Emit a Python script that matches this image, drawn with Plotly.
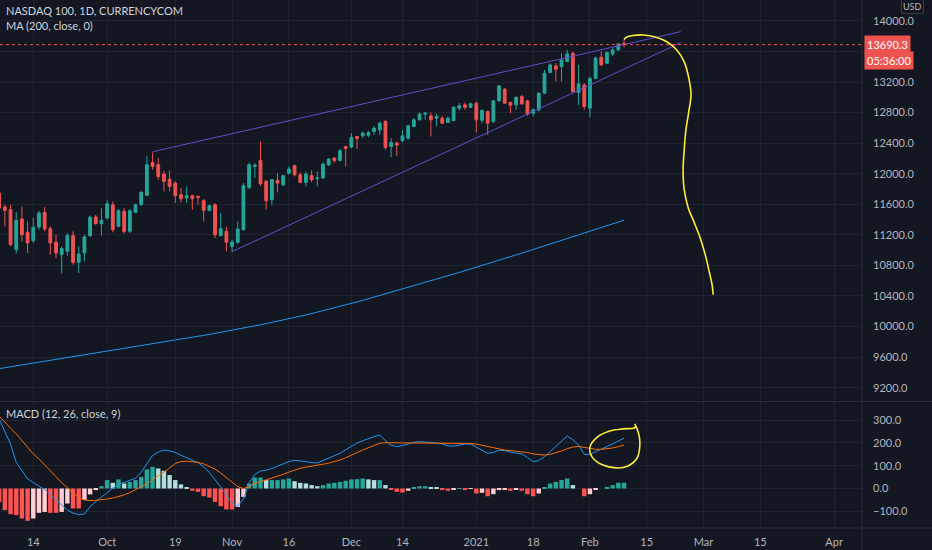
import pandas as pd
import plotly.graph_objects as go

BG = '#131722'
GRID = '#1f2330'
TXT = '#b2b5be'
UP = '#26a69a'
DN = '#ef5350'
FONT = 'Lato'

holidays = ['2020-12-25', '2021-01-01']

dates = [
    '2020-09-04', '2020-09-07', '2020-09-08', '2020-09-09', '2020-09-10', '2020-09-11',
    '2020-09-14', '2020-09-15', '2020-09-16', '2020-09-17', '2020-09-18',
    '2020-09-21', '2020-09-22', '2020-09-23', '2020-09-24', '2020-09-25',
    '2020-09-28', '2020-09-29', '2020-09-30', '2020-10-01', '2020-10-02',
    '2020-10-05', '2020-10-06', '2020-10-07', '2020-10-08', '2020-10-09',
    '2020-10-12', '2020-10-13', '2020-10-14', '2020-10-15', '2020-10-16',
    '2020-10-19', '2020-10-20', '2020-10-21', '2020-10-22', '2020-10-23',
    '2020-10-26', '2020-10-27', '2020-10-28', '2020-10-29', '2020-10-30',
    '2020-11-02', '2020-11-03', '2020-11-04', '2020-11-05', '2020-11-06',
    '2020-11-09', '2020-11-10', '2020-11-11', '2020-11-12', '2020-11-13',
    '2020-11-16', '2020-11-17', '2020-11-18', '2020-11-19', '2020-11-20',
    '2020-11-23', '2020-11-24', '2020-11-25', '2020-11-26', '2020-11-27',
    '2020-11-30', '2020-12-01', '2020-12-02', '2020-12-03', '2020-12-04',
    '2020-12-07', '2020-12-08', '2020-12-09', '2020-12-10', '2020-12-11',
    '2020-12-14', '2020-12-15', '2020-12-16', '2020-12-17', '2020-12-18',
    '2020-12-21', '2020-12-22', '2020-12-23', '2020-12-24', '2020-12-28',
    '2020-12-29', '2020-12-30', '2020-12-31', '2021-01-04', '2021-01-05',
    '2021-01-06', '2021-01-07', '2021-01-08', '2021-01-11', '2021-01-12',
    '2021-01-13', '2021-01-14', '2021-01-15', '2021-01-18', '2021-01-19',
    '2021-01-20', '2021-01-21', '2021-01-22', '2021-01-25', '2021-01-26',
    '2021-01-27', '2021-01-28', '2021-01-29', '2021-02-01', '2021-02-02',
    '2021-02-03', '2021-02-04', '2021-02-05', '2021-02-08', '2021-02-09',
]

opens = [
    11747, 11564, 11530, 11007, 11408, 11233, 11124, 11303, 11495, 11281, 11103,
    10941, 10985, 11190, 10841, 10963, 11190, 11434, 11347, 11421, 11595,
    11312, 11508, 11246, 11495, 11595, 11717, 12148, 12118, 11996, 11930,
    11878, 11726, 11682, 11713, 11704, 11647, 11521, 11595, 11190, 11246,
    11050, 11103, 11268, 11822, 12096, 12174, 11900, 11660, 11913, 11856,
    12009, 12105, 11987, 11887, 11978, 11935, 11944, 12118, 12205, 12174,
    12357, 12349, 12488, 12497, 12505, 12554, 12575, 12684, 12357, 12401,
    12432, 12466, 12619, 12706, 12780, 12758, 12728, 12728, 12671, 12697,
    12858, 12902, 12871, 12924, 12700, 12815, 12684, 12954, 13107, 12932,
    12902, 13011, 12954, 12793, 12837, 13055, 13324, 13412, 13403, 13469,
    13577, 13063, 13163, 12858, 13250, 13525, 13447, 13569, 13621, 13708,
]
highs = [
    11791, 11595, 11595, 11495, 11573, 11377, 11421, 11516, 11564, 11312, 11203,
    11050, 11225, 11246, 11050, 11203, 11451, 11464, 11551, 11652, 11638,
    11538, 11551, 11538, 11608, 11769, 12235, 12279, 12205, 12039, 12044,
    11900, 11813, 11835, 11726, 11713, 11669, 11595, 11617, 11486, 11303,
    11137, 11377, 11878, 12148, 12140, 12423, 11922, 11931, 12009, 11987,
    12096, 12118, 12018, 12031, 12044, 12031, 12148, 12205, 12218, 12323,
    12366, 12532, 12497, 12554, 12562, 12627, 12684, 12706, 12466, 12423,
    12575, 12641, 12728, 12802, 12802, 12802, 12784, 12758, 12749, 12880,
    12924, 12932, 12932, 12945, 12845, 12828, 12967, 13163, 13120, 12945,
    13020, 13033, 12967, 12858, 13063, 13359, 13447, 13447, 13577, 13621,
    13599, 13425, 13185, 13272, 13534, 13599, 13599, 13643, 13708, 13752,
]
lows = [
    11508, 11312, 11050, 10955, 11116, 10963, 11094, 11268, 11246, 10941, 10898,
    10693, 10928, 10811, 10702, 10854, 11172, 11334, 11190, 11399, 11233,
    11299, 11216, 11225, 11486, 11582, 11713, 12052, 11922, 11769, 11769,
    11617, 11626, 11617, 11530, 11595, 11377, 11508, 11159, 11181, 10985,
    10972, 11085, 11255, 11800, 11944, 11843, 11530, 11595, 11756, 11835,
    11987, 11965, 11878, 11835, 11887, 11835, 11930, 12100, 12139, 12161,
    12096, 12336, 12323, 12466, 12475, 12510, 12510, 12314, 12218, 12235,
    12410, 12444, 12610, 12697, 12706, 12488, 12619, 12654, 12662, 12684,
    12828, 12837, 12858, 12540, 12662, 12510, 12662, 12945, 12915, 12793,
    12837, 12902, 12758, 12749, 12815, 13046, 13316, 13207, 13207, 13460,
    13055, 12902, 12837, 12741, 13237, 13412, 13438, 13543, 13612, 13656,
]
closes = [
    11551, 11521, 11072, 11390, 11203, 11094, 11299, 11486, 11277, 11094, 10963,
    11020, 11190, 10841, 10950, 11172, 11429, 11347, 11390, 11608, 11268,
    11516, 11246, 11516, 11595, 11756, 12118, 12096, 11965, 11900, 11834,
    11713, 11673, 11713, 11673, 11691, 11521, 11582, 11203, 11281, 11103,
    11107, 11277, 11843, 12118, 12113, 11869, 11647, 11922, 11878, 11974,
    12061, 11987, 11887, 11996, 11922, 11944, 12127, 12192, 12174, 12301,
    12331, 12475, 12462, 12532, 12540, 12597, 12662, 12344, 12410, 12375,
    12497, 12627, 12706, 12780, 12793, 12706, 12749, 12662, 12728, 12871,
    12889, 12871, 12915, 12706, 12828, 12662, 12954, 13150, 12924, 12898,
    12998, 12915, 12780, 12837, 13055, 13316, 13425, 13368, 13490, 13569,
    13076, 13176, 12880, 13250, 13512, 13425, 13586, 13621, 13699, 13690.3,
]

ma200 = [
    9449, 9461, 9473, 9485, 9497, 9509, 9520, 9532, 9544, 9556, 9568, 9580,
    9592, 9604, 9616, 9628, 9639, 9651, 9663, 9675, 9687, 9699, 9711, 9723,
    9735, 9747, 9758, 9770, 9782, 9794, 9807, 9819, 9832, 9845, 9858, 9871,
    9884, 9897, 9911, 9924, 9938, 9952, 9966, 9980, 9994, 10008, 10023, 10038,
    10053, 10069, 10085, 10101, 10118, 10135, 10152, 10170, 10188, 10207, 10225,
    10244, 10264, 10283, 10303, 10323, 10343, 10364, 10384, 10405, 10426, 10447,
    10468, 10489, 10510, 10532, 10553, 10575, 10597, 10619, 10641, 10663, 10685,
    10708, 10731, 10753, 10776, 10799, 10822, 10845, 10868, 10891, 10914, 10938,
    10961, 10985, 11008, 11032, 11056, 11080, 11104, 11128, 11152, 11176, 11200,
    11224, 11248, 11272, 11296, 11320, 11344, 11368, 11392,
]

macd = [
    305, 250, 195, 115, 78, 42, 26, 10, -5, -26, -49, -74, -95, -108, -115, -112,
    -80, -58, -38, -17, 2, 18, 27, 34, 45, 72, 107, 145, 160, 169, 165, 158,
    146, 134, 124, 114, 95, 70, 40, 7, -30, -65, -76, -48, 25, 62, 77, 80, 88,
    98, 108, 118, 124, 122, 118, 114, 112, 123, 133, 144, 155, 170, 185, 200,
    210, 220, 228, 235, 210, 190, 184, 188, 196, 203, 206, 205, 202, 200, 196,
    187, 186, 192, 196, 195, 180, 168, 155, 158, 168, 166, 160, 157, 152, 136,
    118, 123, 140, 162, 185, 210, 231, 214, 192, 150, 150, 162, 172, 184, 196,
    210, 221,
]
signal = [
    318, 290, 265, 240, 210, 180, 152, 130, 105, 78, 52, 25, 5, -20, -40, -50,
    -53, -52, -50, -46, -42, -36, -28, -18, -6, 5, 20, 38, 55, 72, 90, 110,
    118, 120, 119, 115, 108, 98, 85, 68, 48, 28, 8, 0, 8, 22, 30, 37, 44, 52,
    62, 72, 82, 89, 94, 98, 102, 104, 111, 119, 125, 135, 145, 158, 169, 180,
    190, 199, 201, 201, 201, 201, 201, 201, 201, 201, 200, 199, 199, 199, 199,
    199, 199, 198, 195, 190, 184, 178, 172, 169, 167, 165, 162, 158, 152, 148,
    147, 150, 157, 165, 175, 182, 185, 180, 174, 172, 172, 174, 178, 184, 191,
]
hist = [
    -59, -95, -113, -117, -132, -142, -132, -107, -103, -107, -107, -103, -66,
    -88, -88, -51, -26, -7, 10, 37, 25, 40, 22, 29, 37, 51, 84, 95, 88, 78, 59,
    37, 18, 4, -10, -15, -34, -40, -59, -78, -92, -92, -81, -37, 22, 48, 48, 37,
    37, 37, 40, 44, 32, 25, 22, 15, 10, 15, 22, 25, 29, 34, 40, 41, 44, 40, 37,
    37, 15, -4, -15, -18, -10, 4, 10, 10, 4, 3, -7, -10, -4, 1, -4, -1, -22,
    -19, -34, -25, -7, -4, -10, -4, -10, -25, -34, -22, 4, 22, 29, 37, 44, 15,
    0, -34, -25, -4, 0, 7, 15, 25, 25,
]

tick_dates = ['2020-09-14', '2020-10-01', '2020-10-19', '2020-11-02', '2020-11-16',
              '2020-12-01', '2020-12-14', '2021-01-04', '2021-01-18', '2021-02-01',
              '2021-02-15', '2021-03-01', '2021-03-15', '2021-04-01']
tick_text = ['14', 'Oct', '19', 'Nov', '16', 'Dec', '14', '2021', '18', 'Feb',
             '15', 'Mar', '15', 'Apr']

price_ticks = [9200, 9600, 10000, 10400, 10800, 11200, 11600, 12000, 12400,
               12800, 13200, 13600, 14000]
hidden_price_ticks = [13600]
macd_ticks = [-100, 0, 100, 200, 300]

last_price = 13690.3
countdown = '05:36:00'

upper_line_dates = ['2020-10-13', '2021-02-23']
upper_line_prices = [12288, 13860]
lower_line_dates = ['2020-11-02', '2021-02-23']
lower_line_prices = [10980, 13716]

# freehand drawings, x in bar units of the time scale
yellow_bars = [110.0, 110.5, 111.6, 113.4, 115.5, 117.6, 119.3, 120.6, 121.4, 121.8,
               121.4, 120.9, 120.6, 120.4, 120.6, 121.3, 122.3, 123.4, 124.3, 125.0,
               125.5, 125.7]
yellow_prices = [13758, 13791, 13810, 13817, 13791, 13725, 13621, 13464, 13255, 13033,
                 12810, 12575, 12314, 12052, 11791, 11556, 11373, 11163, 10941, 10719,
                 10549, 10418]
circle_bars = [111.9, 112.5, 112.8, 112.3, 110.7, 108.9, 106.3, 104.4, 104.0, 105.3,
               107.5, 109.8, 111.8, 112.1]
circle_vals = [284, 248, 200, 134, 99, 90, 103, 138, 182, 226, 253, 262, 266, 275]

x_range = [0.14, 151.9]
price_range = [9032.7, 14274.5]
macd_range = [-173.6, 380.0]

# ---- time scale (trading-day index) ----
cal = [d.strftime('%Y-%m-%d') for d in pd.bdate_range(dates[0], periods=200)]
cal = [d for d in cal if d not in holidays]
pos = {d: i for i, d in enumerate(cal)}
x = [pos[d] for d in dates]
tickvals = [pos[d] for d in tick_dates]

hcol = []
for i, v in enumerate(hist):
    prev = hist[i - 1] if i > 0 else v
    if v >= 0:
        hcol.append('#26a69a' if v >= prev else '#b2dfdb')
    else:
        hcol.append('#ffcdd2' if v > prev else '#ff5252')

fig = go.Figure()

fig.add_trace(go.Scatter(x=x, y=ma200, mode='lines', line=dict(color='#2196f3', width=1),
                         xaxis='x', yaxis='y', hoverinfo='skip'))
fig.add_trace(go.Scatter(x=[pos[d] for d in upper_line_dates], y=upper_line_prices, mode='lines',
                         line=dict(color='#5e4fcf', width=1), xaxis='x', yaxis='y', hoverinfo='skip'))
fig.add_trace(go.Scatter(x=[pos[d] for d in lower_line_dates], y=lower_line_prices, mode='lines',
                         line=dict(color='#5e4fcf', width=1), xaxis='x', yaxis='y', hoverinfo='skip'))
fig.add_trace(go.Candlestick(
    x=x, open=opens, high=highs, low=lows, close=closes, xaxis='x', yaxis='y',
    increasing=dict(line=dict(color=UP, width=1), fillcolor=UP),
    decreasing=dict(line=dict(color=DN, width=1), fillcolor=DN),
    whiskerwidth=0, hoverinfo='skip'))
fig.add_trace(go.Scatter(x=yellow_bars, y=yellow_prices, mode='lines',
                         line=dict(color='#ffeb3b', width=1.6, shape='spline'),
                         xaxis='x', yaxis='y', hoverinfo='skip'))

fig.add_trace(go.Bar(x=x, y=hist, marker=dict(color=hcol, line=dict(width=0)), width=0.78,
                     xaxis='x2', yaxis='y2', hoverinfo='skip'))
fig.add_trace(go.Scatter(x=x, y=macd, mode='lines', line=dict(color='#2196f3', width=1),
                         xaxis='x2', yaxis='y2', hoverinfo='skip'))
fig.add_trace(go.Scatter(x=x, y=signal, mode='lines', line=dict(color='#ff6d00', width=1),
                         xaxis='x2', yaxis='y2', hoverinfo='skip'))
fig.add_trace(go.Scatter(x=circle_bars, y=circle_vals, mode='lines',
                         line=dict(color='#ffeb3b', width=1.6, shape='spline'),
                         xaxis='x2', yaxis='y2', hoverinfo='skip'))

axis_font = dict(family=FONT, size=11, color=TXT)
main_bottom = 0.2396

fig.update_layout(
    width=932, height=550,
    margin=dict(l=0, r=70, t=0, b=22),
    paper_bgcolor=BG, plot_bgcolor=BG,
    showlegend=False,
    font=dict(family=FONT, color=TXT, size=11),
    xaxis=dict(domain=[0, 1], anchor='y', range=x_range, tickvals=tickvals,
               showticklabels=False, showgrid=True, gridcolor=GRID, gridwidth=1,
               zeroline=False, ticks='', rangeslider=dict(visible=False), fixedrange=True),
    xaxis2=dict(domain=[0, 1], anchor='y2', matches='x', range=x_range, tickvals=tickvals,
                ticktext=tick_text, tickfont=axis_font, showgrid=True, gridcolor=GRID,
                zeroline=False, ticks='', ticklabelstandoff=6, fixedrange=True),
    yaxis=dict(domain=[main_bottom + 0.002, 1], anchor='x', side='right', range=price_range,
               tickvals=price_ticks,
               ticktext=['' if v in hidden_price_ticks else f'{v:.1f}' for v in price_ticks],
               tickfont=axis_font, showgrid=True, gridcolor=GRID, zeroline=False,
               ticks='', ticklabelstandoff=10, fixedrange=True),
    yaxis2=dict(domain=[0, main_bottom - 0.001], anchor='x2', side='right', range=macd_range,
                tickvals=macd_ticks,
                ticktext=[(f'{v:.1f}' if v >= 0 else '\u2212' + f'{abs(v):.1f}') for v in macd_ticks],
                tickfont=axis_font, showgrid=True, gridcolor=GRID, zeroline=False,
                ticks='', ticklabelstandoff=10, fixedrange=True),
    shapes=[
        dict(type='line', xref='paper', yref='y', x0=0, x1=1, y0=last_price, y1=last_price,
             line=dict(color=DN, width=1, dash='dot')),
        dict(type='line', xref='paper', yref='paper', x0=0, x1=1.09, y0=main_bottom, y1=main_bottom,
             line=dict(color='#2a2e39', width=1)),
        dict(type='line', xref='paper', yref='paper', x0=0, x1=1.09, y0=0, y1=0,
             line=dict(color='#2a2e39', width=1)),
        dict(type='line', xref='paper', yref='paper', x0=1, x1=1, y0=-0.05, y1=1,
             line=dict(color='#2a2e39', width=1)),
    ],
    annotations=[
        dict(text='NASDAQ 100, 1D, CURRENCYCOM', xref='paper', yref='paper', x=0, y=1,
             xanchor='left', yanchor='top', xshift=4, yshift=-2, showarrow=False,
             font=dict(family=FONT, size=11, color='#d1d4dc')),
        dict(text='MA (200, close, 0)', xref='paper', yref='paper', x=0, y=1,
             xanchor='left', yanchor='top', xshift=4, yshift=-17, showarrow=False,
             font=dict(family=FONT, size=11, color='#d1d4dc')),
        dict(text='MACD (12, 26, close, 9)', xref='paper', yref='paper', x=0, y=main_bottom,
             xanchor='left', yanchor='top', xshift=4, yshift=-4, showarrow=False,
             font=dict(family=FONT, size=11, color='#d1d4dc')),
        dict(text='USD', xref='paper', yref='paper', x=1, y=1, xanchor='center', yanchor='top',
             xshift=50, yshift=1, showarrow=False, bordercolor='#363a45', borderwidth=1,
             borderpad=1, font=dict(family=FONT, size=9, color=TXT)),
        dict(text=f'{last_price:.1f}', xref='paper', yref='y', x=1, y=last_price,
             xanchor='left', yanchor='middle', xshift=2, showarrow=False, bgcolor=DN,
             borderpad=2, font=dict(family=FONT, size=11, color='#ffffff')),
        dict(text=countdown, xref='paper', yref='y', x=1, y=last_price,
             xanchor='left', yanchor='middle', xshift=2, yshift=-16, showarrow=False, bgcolor=DN,
             borderpad=2, font=dict(family=FONT, size=11, color='#ffffff')),
    ],
)

fig.write_html('out.html', config={'displayModeBar': False},
               post_script="document.body.style.margin='0';document.body.style.overflow='hidden';")
